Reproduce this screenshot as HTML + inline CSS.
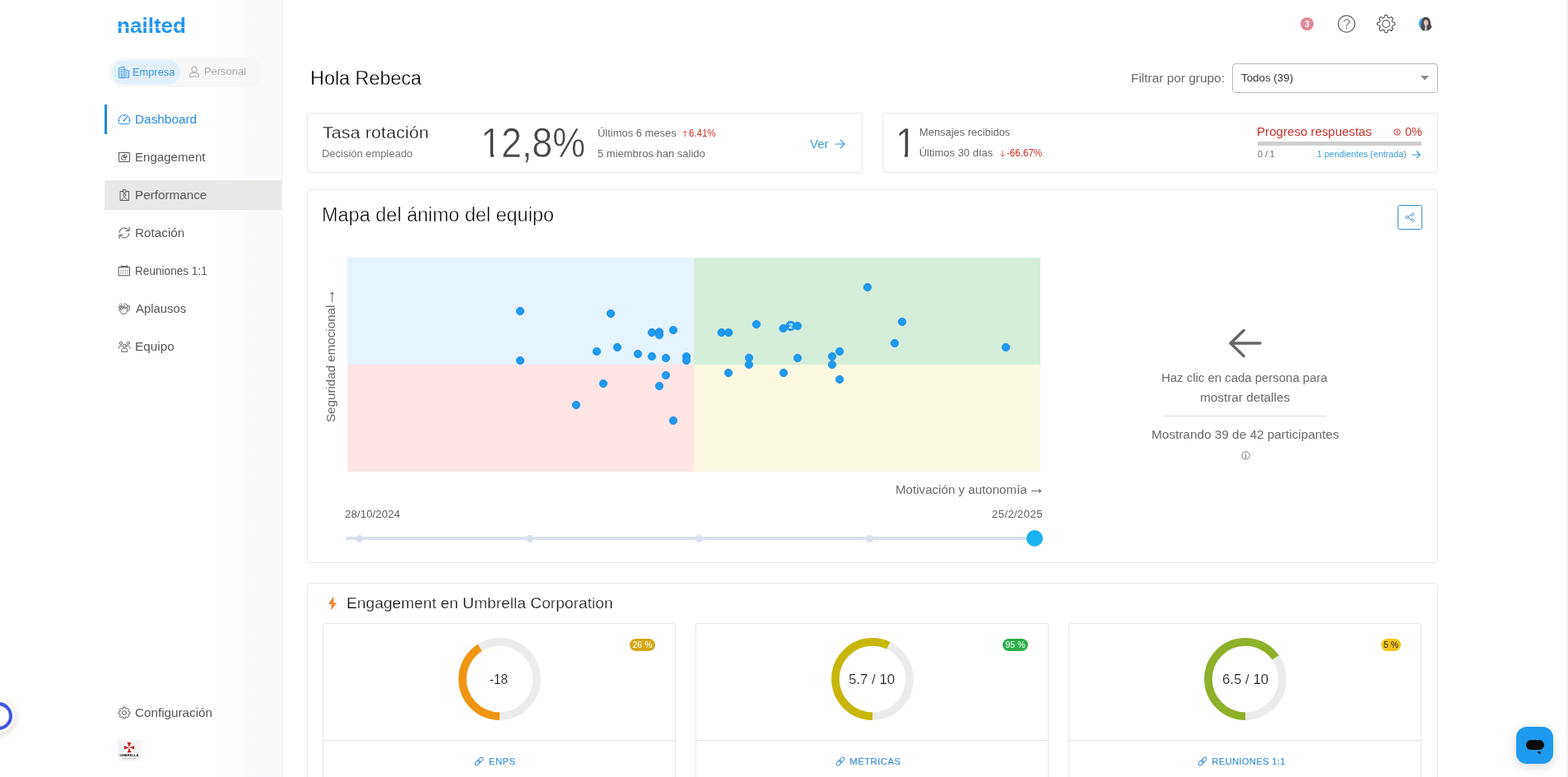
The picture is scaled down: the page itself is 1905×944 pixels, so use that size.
<!DOCTYPE html>
<html lang="es">
<head>
<meta charset="utf-8">
<title>Nailted - Dashboard</title>
<style>
*{box-sizing:border-box;margin:0;padding:0}
html,body{width:1905px;height:944px;overflow:hidden;background:#fff}
body{font-family:"Liberation Sans",sans-serif;color:#565656;position:relative;-webkit-font-smoothing:antialiased}
.t{position:absolute;white-space:nowrap;display:block}
.abs{position:absolute;display:block}
.card{position:absolute;background:#fff;border:1px solid #e8e8e8;border-radius:4px}
svg{position:absolute;overflow:visible}
a{text-decoration:none;color:inherit}
ul{list-style:none}
</style>
</head>
<body>

<nav class="abs" style="left:127px;top:0;width:216px;height:944px;background:linear-gradient(90deg,#ffffff 0%,#ffffff 60%,#fcfdfe 75%,#f9fafd 82%,#f8fafc 100%);border-right:1px solid #efefef"></nav>
<a class="t" style="left:142.0px;top:17.55px;font-size:26.5px;line-height:26.5px;font-weight:700;color:#2196f3;transform:scaleX(0.9837);transform-origin:0 0;letter-spacing:0">nailted</a><div class="abs" style="left:140px;top:33px;width:86px;height:1px;background:#fff;opacity:.8"></div>
<div class="abs" style="left:133px;top:70px;width:185px;height:36px;border-radius:18px;background:#f7f7f7"></div>
<div class="abs" style="left:136px;top:73px;width:83px;height:30px;border-radius:15px;background:#e2f0fb"></div>
<span class="t" style="top:81.00px;font-size:13px;line-height:13px;color:#3a97e0;left:161.45px;transform:scaleX(0.9862);transform-origin:left center;">Empresa</span>
<span class="t" style="top:80.30px;font-size:13px;line-height:13px;color:#b0b0b0;left:248.34px;transform:scaleX(0.9945);transform-origin:left center;">Personal</span>
<div class="abs" style="left:127px;top:127px;width:3px;height:36px;background:#1e88e5"></div>
<div class="abs" style="left:127px;top:219px;width:215px;height:36px;background:#e8e8e8"></div>
<span class="t" style="top:138.00px;font-size:14px;line-height:14px;color:#2a8be0;left:163.94px;transform:scaleX(1.0972);transform-origin:left center;">Dashboard</span>
<span class="t" style="top:184.00px;font-size:14px;line-height:14px;color:#565656;left:163.96px;transform:scaleX(1.0775);transform-origin:left center;">Engagement</span>
<span class="t" style="top:230.00px;font-size:14px;line-height:14px;color:#565656;left:163.95px;transform:scaleX(1.0884);transform-origin:left center;">Performance</span>
<span class="t" style="top:276.00px;font-size:14px;line-height:14px;color:#565656;left:163.95px;transform:scaleX(1.0922);transform-origin:left center;">Rotación</span>
<span class="t" style="top:322.00px;font-size:14px;line-height:14px;color:#565656;left:164.08px;transform:scaleX(0.9722);transform-origin:left center;">Reuniones 1:1</span>
<span class="t" style="top:368.00px;font-size:14px;line-height:14px;color:#565656;left:165.17px;transform:scaleX(1.0620);transform-origin:left center;">Aplausos</span>
<span class="t" style="top:414.00px;font-size:14px;line-height:14px;color:#565656;left:163.94px;transform:scaleX(1.0942);transform-origin:left center;">Equipo</span>
<span class="t" style="top:859.00px;font-size:14px;line-height:14px;color:#565656;left:164.43px;transform:scaleX(1.0889);transform-origin:left center;">Configuración</span>
<svg style="left:0;top:0" width="400" height="944" viewBox="0 0 400 944" fill="none" stroke-width="1" stroke-linecap="round" stroke-linejoin="round"><g stroke="#3a97e0" stroke-width="1"><path d="M144.5 94.3V82.6l6.5-1.4v13.1z"/><path d="M151 84.6l5.6 1.2v8.5H151"/><path d="M146.2 84.6h3.2M146.2 86.8h3.2M146.2 89h3.2M146.2 91.2h3.2M152.6 87.6h2.4M152.6 89.8h2.4M152.6 92h2.4" stroke-width="0.9"/><path d="M147 94.3v-1.6h1.6v1.6" stroke-width="0.8"/></g><g stroke="#b0b0b0" stroke-width="1.05"><circle cx="236" cy="84.2" r="3.1"/><path d="M230.6 93.3v-1.6c0-2.2 2.4-3.6 5.4-3.6s5.4 1.4 5.4 3.6v1.6z"/></g><g stroke="#2a8be0"><path d="M145.2 150.3c-.9-1.1-1.3-2.4-1.3-3.8a7 7 0 0 1 14 0c0 1.400-.4 2.700-1.300 3.800z"/><path d="M150.9 146.2l3.700-4.300" stroke-width="1.1"/><circle cx="150.7" cy="146.4" r="1.1" fill="#2a8be0" stroke="none"/><path d="M144.2 146.5h1.100M156.500 146.500h1.100M150.900 139.800v1M146.100 141.800l.7.7" stroke-width="0.8"/></g><g stroke="#565656"><rect x="144.500" y="185.500" width="13" height="11" rx="0.400"/><path d="M150.300 188.700a2.900 2.900 0 1 0 2.900 2.900h-2.900z" stroke-width="0.9"/><path d="M151.500 187.600a2.900 2.900 0 0 1 2.900 2.900h-2.900z" stroke-width="0.9"/></g><g stroke="#565656"><path d="M148.800 232.500h-2.800v11h10.500v-11h-2.800"/><rect x="149.400" y="230.700" width="3.700" height="3.400" rx="0.300"/><circle cx="151.250" cy="236.900" r="1.500" stroke-width="0.9"/><path d="M147.300 243.400l3.950-4.300l3.950 4.300" stroke-width="0.9"/></g><g stroke="#565656"><path d="M144.900 282.400a6.200 6.200 0 0 1 11.400-2.600"/><path d="M157.100 276.400v4.100h-4.100"/><path d="M157.100 283.600a6.200 6.200 0 0 1-11.400 2.600"/><path d="M144.900 289.600v-4.100h4.100"/></g><g stroke="#565656"><path d="M144.500 324.500h13v10.300h-13z"/><path d="M147.600 322.300v3M154.400 322.300v3M148.600 323.600h4.800"/><path d="M146.800 328.200v1.200M149.600 328.200v1.200M152.400 328.200v1.200M155.200 328.200v1.200M146.800 331v1.200M149.600 331v1.200M152.400 331v1.200M155.200 331v1.200" stroke-width="0.9" stroke="#8a8a8a"/></g><g stroke="#565656" stroke-width="0.95" transform="translate(0.3 -2.9)"><path d="M146.600 378.600l-1.500-2.600c-.5-.9.700-1.700 1.300-.8l1.900 2.800M148.300 378l-1.700-3.100c-.5-.9.800-1.600 1.300-.7l2 3.300M150.900 377.900l-1.300-2.600c-.4-.9.900-1.500 1.400-.6l1.600 3.100c.3-.8.300-1.800 1.200-1.900.6 0 .9.500.8 1.200l-.5 3.600c-.3 2.300-1.700 3.800-3.900 3.800-1.900 0-3.100-.9-4-2.500l-1.900-3.400c-.5-.9.700-1.600 1.300-.8l1.400 2.100"/><path d="M152.400 372.300c.5-.7 1.600-.1 1.300.7l1.500 3.100c.2-.8.300-1.700 1.100-1.800.7 0 .9.600.8 1.200l-.4 3.200c-.1 1-.5 1.800-1.100 2.400M150.600 372.400c-.3-.8.800-1.400 1.300-.6"/><path d="M144.400 372.700l.8 1M146.800 371.300l.3 1.200M143.300 375l1.100.5" stroke-width="0.8"/></g><g stroke="#565656" stroke-width="0.95" transform="translate(0.2 -1.4)"><circle cx="151" cy="421.600" r="2.100"/><path d="M147.500 428.300v-1.300c0-1.600 1.500-2.500 3.500-2.500s3.500.9 3.500 2.500v1.300z"/><circle cx="146.600" cy="418.300" r="1.600"/><circle cx="155.400" cy="418.300" r="1.600"/><path d="M144.200 424.800v-1.200c0-1.300 1-2.100 2.400-2.100.5 0 .9.100 1.300.2M157.800 424.800v-1.200c0-1.300-1-2.100-2.400-2.100-.5 0-.9.100-1.300.2"/></g><g stroke="#565656" stroke-width="1"><path d="M149.48 860.92 L149.90 859.09 L152.10 859.09 L152.52 860.92 L153.52 861.34 L155.11 860.34 L156.66 861.89 L155.66 863.48 L156.08 864.48 L157.91 864.90 L157.91 867.10 L156.08 867.52 L155.66 868.52 L156.66 870.11 L155.11 871.66 L153.52 870.66 L152.52 871.08 L152.10 872.91 L149.90 872.91 L149.48 871.08 L148.48 870.66 L146.89 871.66 L145.34 870.11 L146.34 868.52 L145.92 867.52 L144.09 867.10 L144.09 864.90 L145.92 864.48 L146.34 863.48 L145.34 861.89 L146.89 860.34 L148.48 861.34Z"/><circle cx="151" cy="866" r="2.500"/></g></svg>
<div class="abs" style="left:143px;top:899px;width:28px;height:25px;background:#f4f4f4"></div><svg style="left:143px;top:899px" width="28" height="25" viewBox="0 0 28 25"><path d="M14 9.2L20.10 6.67L20.10 11.73Z" fill="#c62828"/><path d="M14 9.2L20.10 11.73L16.53 15.30Z" fill="#ffffff"/><path d="M14 9.2L16.53 15.30L11.47 15.30Z" fill="#c62828"/><path d="M14 9.2L11.47 15.30L7.90 11.73Z" fill="#ffffff"/><path d="M14 9.2L7.90 11.73L7.90 6.67Z" fill="#c62828"/><path d="M14 9.2L7.90 6.67L11.47 3.10Z" fill="#ffffff"/><path d="M14 9.2L11.47 3.10L16.53 3.10Z" fill="#c62828"/><path d="M14 9.2L16.53 3.10L20.10 6.67Z" fill="#ffffff"/><text x="14" y="20.4" font-family="Liberation Sans, sans-serif" font-weight="700" font-size="4.4" fill="#111" text-anchor="middle" textLength="23" lengthAdjust="spacingAndGlyphs">UMBRELLA</text><text x="14" y="22.6" font-family="Liberation Sans, sans-serif" font-size="1.8" fill="#666" text-anchor="middle" textLength="16" lengthAdjust="spacingAndGlyphs">CORPORATION</text></svg>
<svg style="left:1560px;top:0" width="200" height="60" viewBox="1560 0 200 60" fill="none"><circle cx="1588" cy="29" r="8" fill="#e08a96"/><text x="1588" y="32.600" font-family="Liberation Sans, sans-serif" font-weight="700" font-size="10" fill="#fff" text-anchor="middle">3</text><circle cx="1636" cy="29" r="10.100" stroke="#666" stroke-width="1.250"/><text x="1636.1" y="35" font-family="Liberation Sans, sans-serif" font-size="16.5" fill="#666" stroke="#fff" stroke-width="0.25" text-anchor="middle">?</text><path d="M1681.90 21.07 L1682.49 18.41 L1685.51 18.41 L1686.10 21.07 L1688.12 21.91 L1690.42 20.44 L1692.56 22.58 L1691.09 24.88 L1691.93 26.90 L1694.59 27.49 L1694.59 30.51 L1691.93 31.10 L1691.09 33.12 L1692.56 35.42 L1690.42 37.56 L1688.12 36.09 L1686.10 36.93 L1685.51 39.59 L1682.49 39.59 L1681.90 36.93 L1679.88 36.09 L1677.58 37.56 L1675.44 35.42 L1676.91 33.12 L1676.07 31.10 L1673.41 30.51 L1673.41 27.49 L1676.07 26.90 L1676.91 24.88 L1675.44 22.58 L1677.58 20.44 L1679.88 21.91Z" stroke="#666" stroke-width="1.250" stroke-linejoin="round"/><circle cx="1684" cy="29" r="4.300" stroke="#666" stroke-width="1.200"/><clipPath id="avc"><circle cx="1732" cy="29" r="8.600"/></clipPath><g clip-path="url(#avc)"><rect x="1722" y="19" width="20" height="20" fill="#fff"/><circle cx="1730.500" cy="28.500" r="7.200" fill="#4aa6ea"/><path d="M1726.800 39c-.6-3.400-.4-6.500-.2-9.500.3-5 2.300-9 5.800-9s5.600 3.800 5.900 8.700c.2 2.200 1.600 3.800 2.700 5.300v4.500z" fill="#4a4a4e"/><ellipse cx="1732.500" cy="27.600" rx="2.700" ry="3.600" fill="#e3c6bc"/><path d="M1731.400 30.500h1.800l.4 7h-2.600z" fill="#d8d0cc"/></g></svg>
<span class="t" style="top:82.60px;font-size:24px;line-height:24px;color:#000;-webkit-text-stroke:0.35px #fff;left:377.08px;transform:scaleX(0.9738);transform-origin:left center;">Hola Rebeca</span>
<span class="t" style="top:87.60px;font-size:14px;line-height:14px;color:#6a6a6a;letter-spacing:0.007px;left:1374.04px;transform:scaleX(1.1000);transform-origin:left center;">Filtrar por grupo:</span>
<div class="abs" style="left:1497px;top:77px;width:250px;height:36px;border:1px solid #b8b8b8;border-radius:4px;background:#fff"></div>
<span class="t" style="top:88.20px;font-size:13px;line-height:13px;color:#333;left:1507.70px;transform:scaleX(1.0278);transform-origin:left center;">Todos (39)</span>
<svg style="left:1726px;top:92px" width="10" height="6" viewBox="0 0 10 6"><path d="M0 0h10L5 5.6z" fill="#8a8a8a"/></svg>
<div class="card" style="left:373px;top:137px;width:675px;height:73px"></div>
<span class="t" style="top:152.15px;font-size:19.5px;line-height:19.5px;color:#111;letter-spacing:0.098px;-webkit-text-stroke:0.3px #fff;left:392.02px;transform:scaleX(1.1000);transform-origin:left center;">Tasa rotación</span>
<span class="t" style="top:180.25px;font-size:13px;line-height:13px;color:#777;left:391.24px;transform:scaleX(0.9977);transform-origin:left center;">Decisión empleado</span>
<span class="t" style="top:149.10px;font-size:50px;line-height:50px;color:#484848;-webkit-text-stroke:0.5px #fff;left:583.88px;transform:scaleX(0.8973);transform-origin:left center;">12,8%</span>
<div class="abs" style="left:585px;top:186.5px;width:11px;height:6px;background:#fff"></div><div class="abs" style="left:599.6px;top:186.5px;width:9px;height:6px;background:#fff"></div>
<span class="t" style="top:155.00px;font-size:13px;line-height:13px;color:#6a6a6a;left:725.50px;transform:scaleX(0.9957);transform-origin:left center;">Últimos 6 meses</span>
<span class="t" style="top:156.00px;font-size:12px;line-height:12px;color:#c9302c;left:837.02px;transform:scaleX(0.9519);transform-origin:left center;">6.41%</span>
<svg style="left:828px;top:157px" width="9" height="10" viewBox="0 0 9 10"><path d="M4.3 9V2M1.8 4.5L4.3 2L6.800 4.5" fill="none" stroke="#e0524b" stroke-width="1"/></svg>
<span class="t" style="top:180.00px;font-size:13px;line-height:13px;color:#6a6a6a;left:725.98px;">5 miembros han salido</span>
<span class="t" style="top:167.50px;font-size:14px;line-height:14px;color:#3d9bd9;left:983.63px;transform:scaleX(1.0763);transform-origin:left center;">Ver</span>
<svg style="left:1014px;top:169px" width="13" height="12" viewBox="0 0 13 12"><path d="M0.8 6H12M7.2 1.2L12 6L7.2 10.8" fill="none" stroke="#3d9bd9" stroke-width="1.2" stroke-linecap="round" stroke-linejoin="round"/></svg>
<div class="card" style="left:1072px;top:137px;width:675px;height:73px"></div>
<span class="t" style="top:149.20px;font-size:50px;line-height:50px;color:#484848;-webkit-text-stroke:0.4px #fff;left:1087.50px;transform:scaleX(0.9);transform-origin:left center;">1</span>
<div class="abs" style="left:1085px;top:185.5px;width:14.3px;height:7px;background:#fff"></div><div class="abs" style="left:1103px;top:184px;width:11px;height:8.5px;background:#fff"></div>
<span class="t" style="top:154.40px;font-size:13px;line-height:13px;color:#6a6a6a;left:1116.64px;transform:scaleX(0.9914);transform-origin:left center;">Mensajes recibidos</span>
<span class="t" style="top:179.20px;font-size:13px;line-height:13px;color:#6a6a6a;left:1116.70px;">Últimos 30 días</span>
<svg style="left:1214px;top:181.5px" width="8" height="10" viewBox="0 0 8 10"><path d="M4 1V8M1.5 5.5L4 8L6.500 5.5" fill="none" stroke="#e0524b" stroke-width="1"/></svg>
<span class="t" style="top:180.20px;font-size:12px;line-height:12px;color:#c9302c;left:1223.29px;transform:scaleX(0.9649);transform-origin:left center;">-66.67%</span>
<span class="t" style="top:152.80px;font-size:14px;line-height:14px;color:#c9302c;left:1526.76px;transform:scaleX(1.0806);transform-origin:left center;">Progreso respuestas</span>
<svg style="left:1692.5px;top:155.5px" width="9" height="9" viewBox="0 0 9 9"><circle cx="4.5" cy="4.5" r="3.7" fill="none" stroke="#c9302c" stroke-width="1"/><path d="M4.5 2.6v3.8" stroke="#c9302c" stroke-width="1.1"/></svg>
<span class="t" style="top:152.80px;font-size:14px;line-height:14px;color:#c9302c;left:1706.94px;transform:scaleX(1.0162);transform-origin:left center;">0%</span>
<div class="abs" style="left:1528px;top:172px;width:199px;height:5px;background:#cfcfcf"></div>
<span class="t" style="top:181.50px;font-size:11px;line-height:11px;color:#6a6a6a;left:1527.58px;transform:scaleX(0.9688);transform-origin:left center;">0 / 1</span>
<span class="t" style="top:181.50px;font-size:11px;line-height:11px;color:#3d9bd9;left:1600.48px;transform:scaleX(0.9820);transform-origin:left center;">1 pendientes (entrada)</span>
<svg style="left:1714.5px;top:182.5px" width="11" height="10" viewBox="0 0 11 10"><path d="M0.6 5H10.2M6.2 1L10.2 5L6.2 9" fill="none" stroke="#3d9bd9" stroke-width="1.1" stroke-linecap="round" stroke-linejoin="round"/></svg>
<section class="card" style="left:373px;top:230px;width:1374px;height:454px"></section>
<span class="t" style="top:250.20px;font-size:23px;line-height:23px;color:#000;-webkit-text-stroke:0.45px #fff;left:390.97px;transform:scaleX(1.0211);transform-origin:left center;">Mapa del ánimo del equipo</span>
<div class="abs" style="left:1698px;top:249px;width:30px;height:30px;border:1px solid #3a8fd0;border-radius:2.5px"></div>
<svg style="left:1707px;top:258px" width="12" height="12" viewBox="0 0 12 12" fill="none" stroke="#3a8fd0" stroke-width="0.9"><circle cx="2.3" cy="6" r="1.6"/><circle cx="9.5" cy="2.3" r="1.6"/><circle cx="9.5" cy="9.7" r="1.6"/><path d="M3.8 5.2L8 3M3.8 6.8L8 9"/></svg>
<div class="abs" style="left:422px;top:313px;width:421px;height:130px;background:#e5f3fd"></div>
<div class="abs" style="left:843px;top:313px;width:421px;height:130px;background:#d4eeda"></div>
<div class="abs" style="left:422px;top:443px;width:421px;height:130px;background:#ffe4e4"></div>
<div class="abs" style="left:843px;top:443px;width:421px;height:130px;background:#fbf9e2"></div>
<svg style="left:0;top:0" width="1905" height="944" viewBox="0 0 1905 944"><g fill="#1f99f1" stroke="#1e8de0" stroke-width="0.8"><circle cx="632" cy="378" r="4.7"/><circle cx="742" cy="381" r="4.7"/><circle cx="792" cy="404" r="4.7"/><circle cx="801" cy="403.5" r="4.7"/><circle cx="801" cy="407" r="4.7"/><circle cx="818" cy="401" r="4.7"/><circle cx="725" cy="427" r="4.7"/><circle cx="750" cy="422" r="4.7"/><circle cx="775" cy="430" r="4.7"/><circle cx="792" cy="433" r="4.7"/><circle cx="809" cy="435" r="4.7"/><circle cx="834" cy="433.2" r="4.7"/><circle cx="834" cy="438" r="4.7"/><circle cx="632" cy="438" r="4.7"/><circle cx="809" cy="456" r="4.7"/><circle cx="733" cy="466" r="4.7"/><circle cx="801" cy="469" r="4.7"/><circle cx="700" cy="492" r="4.7"/><circle cx="818" cy="511" r="4.7"/><circle cx="876.6" cy="404" r="4.7"/><circle cx="885.2" cy="404" r="4.7"/><circle cx="919" cy="394" r="4.7"/><circle cx="951.6" cy="399" r="4.7"/><circle cx="969" cy="396" r="4.7"/><circle cx="1054" cy="349" r="4.7"/><circle cx="910" cy="434.8" r="4.7"/><circle cx="910" cy="443" r="4.7"/><circle cx="969" cy="435" r="4.7"/><circle cx="1020" cy="427" r="4.7"/><circle cx="1011" cy="433" r="4.7"/><circle cx="1011" cy="443" r="4.7"/><circle cx="885" cy="453" r="4.7"/><circle cx="952" cy="453" r="4.7"/><circle cx="1020" cy="461" r="4.7"/><circle cx="1096" cy="391" r="4.7"/><circle cx="1087" cy="417" r="4.7"/><circle cx="1222" cy="422" r="4.7"/><circle cx="960.6" cy="396" r="5.8"/></g><text x="960.7" y="399.1" font-family="Liberation Sans, sans-serif" font-size="9" font-weight="700" fill="#fff" text-anchor="middle">2</text></svg>
<div class="abs" style="left:407.4px;top:512.4px;width:0;height:0;transform:rotate(-90deg);transform-origin:0 0"><span class="t" style="top:-12.00px;font-size:14px;line-height:14px;color:#6a6a6a;left:-0.69px;transform:scaleX(1.0826);transform-origin:left center;">Seguridad emocional</span><span class="t" style="top:-18.00px;font-size:21px;line-height:21px;color:#6a6a6a;left:145.20px;left:145.2px;margin-left:-4.3px;">→</span></div>
<span class="t" style="top:587.75px;font-size:14px;line-height:14px;color:#6a6a6a;left:1087.76px;transform:scaleX(1.0804);transform-origin:left center;">Motivación y autonomía</span>
<span class="t" style="top:581.75px;font-size:21px;line-height:21px;color:#6a6a6a;left:1253.00px;margin-left:-4.3px;">→</span>
<span class="t" style="top:619.00px;font-size:12px;line-height:12px;color:#565f66;letter-spacing:0.100px;left:419.34px;transform:scaleX(1.1000);transform-origin:left center;">28/10/2024</span>
<span class="t" style="top:619.00px;font-size:12px;line-height:12px;color:#565f66;letter-spacing:0.318px;left:1205.34px;transform:scaleX(1.1000);transform-origin:left center;">25/2/2025</span>
<div class="abs" style="left:420px;top:652px;width:847px;height:4px;border-radius:2px;background:#d9e0ef"></div>
<div class="abs" style="left:431.5px;top:649.5px;width:9px;height:9px;border-radius:50%;background:#d9e0ef"></div>
<div class="abs" style="left:638.5px;top:649.5px;width:9px;height:9px;border-radius:50%;background:#d9e0ef"></div>
<div class="abs" style="left:844.5px;top:649.5px;width:9px;height:9px;border-radius:50%;background:#d9e0ef"></div>
<div class="abs" style="left:1051.5px;top:649.5px;width:9px;height:9px;border-radius:50%;background:#d9e0ef"></div>
<div class="abs" style="left:1247px;top:644px;width:20px;height:20px;border-radius:50%;background:#1ab3ef"></div>
<svg style="left:1490px;top:398px" width="46" height="38" viewBox="0 0 46 38"><path d="M5 19H41M21 3.5L5 19L21 34.5" fill="none" stroke="#666" stroke-width="3.4" stroke-linecap="round" stroke-linejoin="round"/></svg>
<span class="t" style="top:451.75px;font-size:14px;line-height:14px;color:#6a6a6a;left:1411.27px;transform:scaleX(1.0667);transform-origin:left center;">Haz clic en cada persona para</span>
<span class="t" style="top:475.50px;font-size:14px;line-height:14px;color:#6a6a6a;left:1457.73px;transform:scaleX(1.0952);transform-origin:left center;">mostrar detalles</span>
<div class="abs" style="left:1415px;top:505px;width:196px;height:1px;background:#dcdcdc"></div>
<span class="t" style="top:521.00px;font-size:14px;line-height:14px;color:#6a6a6a;left:1398.74px;transform:scaleX(1.0963);transform-origin:left center;">Mostrando 39 de 42 participantes</span>
<svg style="left:1507.5px;top:548px" width="11" height="11" viewBox="0 0 11 11"><circle cx="5.5" cy="5.5" r="4.7" fill="none" stroke="#666" stroke-width="0.9"/><path d="M5.5 4.6v3.4M4.3 8h2.4M4.6 4.6h0.9" stroke="#666" stroke-width="0.9" fill="none"/><circle cx="5.5" cy="3" r="0.6" fill="#666"/></svg>
<section class="card" style="left:373px;top:708px;width:1374px;height:300px"></section>
<svg style="left:0;top:0" width="1905" height="944" viewBox="0 0 1905 944"><path d="M405.3 723.9L399.1 733.7L402.5 734.3L402.1 741.6L409 732.7L405.3 732.1z" fill="#ef8a3a"/></svg>
<span class="t" style="top:723.90px;font-size:18px;line-height:18px;color:#111;-webkit-text-stroke:0.25px #fff;left:421.42px;transform:scaleX(1.0678);transform-origin:left center;">Engagement en Umbrella Corporation</span>
<div class="card" style="left:392px;top:757px;width:429px;height:260px;border-radius:3px"></div>
<div class="abs" style="left:392px;top:899px;width:429px;height:1px;background:#e2e2e2"></div>
<svg style="left:551.75px;top:770px" width="110" height="110" viewBox="-55 -55 110 110"><circle r="45.1" fill="none" stroke="#ebebeb" stroke-width="9.6"/><circle r="45.1" fill="none" stroke="#ef9512" stroke-width="9.6" stroke-dasharray="116.18 283.37" transform="rotate(90)"/></svg>
<span class="t" style="top:817.05px;font-size:16.5px;line-height:16.5px;color:#222;-webkit-text-stroke:0.15px #fff;left:595.33px;transform:scaleX(0.9197);transform-origin:left center;">-18</span>
<div class="abs" style="left:765px;top:776px;width:31px;height:15px;border-radius:7.5px;background:#d4a817"></div>
<span class="t" style="top:778.05px;font-size:10.5px;line-height:10.5px;color:#fff;left:580.50px;width:400px;text-align:center;">26 %</span>
<span class="t" style="top:919.95px;font-size:11.3px;line-height:11.3px;color:#3c8fd4;letter-spacing:0.425px;-webkit-text-stroke:0.12px #3c8fd4;left:593.97px;">ENPS</span>
<svg style="left:574.25px;top:916.8px" width="16" height="16" viewBox="-8 -8 16 16" fill="none" stroke="#3c8dd2" stroke-width="1"><g transform="rotate(-45)"><rect x="-6.100" y="-2" width="7" height="4" rx="2"/><rect x="-0.900" y="-2" width="7" height="4" rx="2"/></g></svg>
<div class="card" style="left:845px;top:757px;width:429px;height:260px;border-radius:3px"></div>
<div class="abs" style="left:845px;top:899px;width:429px;height:1px;background:#e2e2e2"></div>
<svg style="left:1004.5999999999999px;top:770px" width="110" height="110" viewBox="-55 -55 110 110"><circle r="45.1" fill="none" stroke="#ebebeb" stroke-width="9.6"/><circle r="45.1" fill="none" stroke="#c8b70a" stroke-width="9.6" stroke-dasharray="161.52 283.37" transform="rotate(90)"/></svg>
<span class="t" style="top:817.05px;font-size:16.5px;line-height:16.5px;color:#222;-webkit-text-stroke:0.15px #fff;left:1031.33px;transform:scaleX(1.0198);transform-origin:left center;">5.7 / 10</span>
<div class="abs" style="left:1218px;top:776px;width:31px;height:15px;border-radius:7.5px;background:#2eaf4b"></div>
<span class="t" style="top:778.05px;font-size:10.5px;line-height:10.5px;color:#fff;left:1033.50px;width:400px;text-align:center;">95 %</span>
<span class="t" style="top:919.95px;font-size:11.3px;line-height:11.3px;color:#3c8fd4;letter-spacing:0.494px;-webkit-text-stroke:0.12px #3c8fd4;left:1032.27px;">MÉTRICAS</span>
<svg style="left:1012.55px;top:916.8px" width="16" height="16" viewBox="-8 -8 16 16" fill="none" stroke="#3c8dd2" stroke-width="1"><g transform="rotate(-45)"><rect x="-6.100" y="-2" width="7" height="4" rx="2"/><rect x="-0.900" y="-2" width="7" height="4" rx="2"/></g></svg>
<div class="card" style="left:1298px;top:757px;width:429px;height:260px;border-radius:3px"></div>
<div class="abs" style="left:1298px;top:899px;width:429px;height:1px;background:#e2e2e2"></div>
<svg style="left:1457.6px;top:770px" width="110" height="110" viewBox="-55 -55 110 110"><circle r="45.1" fill="none" stroke="#ebebeb" stroke-width="9.6"/><circle r="45.1" fill="none" stroke="#8fb02a" stroke-width="9.6" stroke-dasharray="184.19 283.37" transform="rotate(90)"/></svg>
<span class="t" style="top:817.05px;font-size:16.5px;line-height:16.5px;color:#222;-webkit-text-stroke:0.15px #fff;left:1484.64px;transform:scaleX(1.0213);transform-origin:left center;">6.5 / 10</span>
<div class="abs" style="left:1678px;top:776px;width:24px;height:15px;border-radius:7.5px;background:#f5c518"></div>
<span class="t" style="top:778.05px;font-size:10.5px;line-height:10.5px;color:#222;left:1490.00px;width:400px;text-align:center;">5 %</span>
<span class="t" style="top:919.95px;font-size:11.3px;line-height:11.3px;color:#3c8fd4;letter-spacing:0.271px;-webkit-text-stroke:0.12px #3c8fd4;left:1472.27px;">REUNIONES 1:1</span>
<svg style="left:1452.55px;top:916.8px" width="16" height="16" viewBox="-8 -8 16 16" fill="none" stroke="#3c8dd2" stroke-width="1"><g transform="rotate(-45)"><rect x="-6.100" y="-2" width="7" height="4" rx="2"/><rect x="-0.900" y="-2" width="7" height="4" rx="2"/></g></svg>
<div class="abs" style="left:-22px;top:850px;width:40px;height:40px;border-radius:50%;background:#fff;box-shadow:0 2px 10px rgba(0,0,0,.18)"></div>
<div class="abs" style="left:-19px;top:853px;width:34px;height:34px;border-radius:50%;border:4px solid #4355e0"></div>
<div class="abs" style="left:1842px;top:883px;width:45px;height:45px;border-radius:13px;background:#1d9bf0;box-shadow:0 3px 12px rgba(0,0,0,.16)"></div>
<div class="abs" style="left:1854px;top:899px;width:22px;height:11.5px;border-radius:6px;background:#0a0a0a"></div>
<svg style="left:1867px;top:912.5px" width="5" height="4" viewBox="0 0 5 4"><path d="M0 0h4.6v3.6z" fill="#0a0a0a"/></svg>
<div class="abs" style="left:1903px;top:0;width:2px;height:944px;background:#f4f4f4"></div>
</body>
</html>
